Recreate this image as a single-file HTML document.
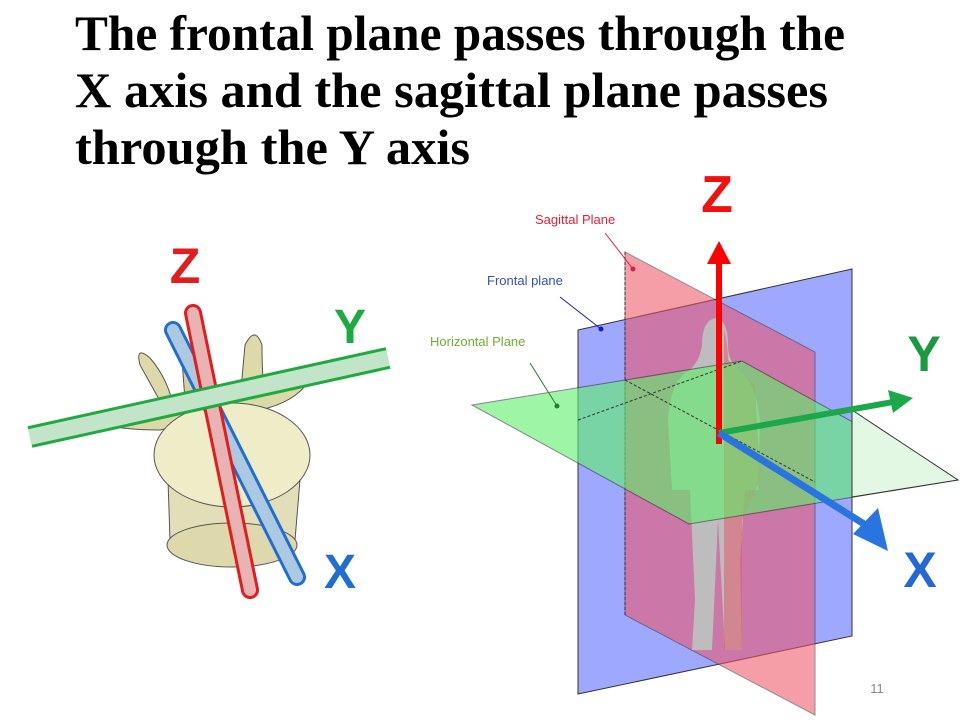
<!DOCTYPE html>
<html><head><meta charset="utf-8"><style>
html,body{margin:0;padding:0;background:#fff;}
svg{display:block}
</style></head><body>
<svg width="960" height="720" viewBox="0 0 960 720" xmlns="http://www.w3.org/2000/svg">
<rect width="960" height="720" fill="#fff"/>
<g font-family="Liberation Serif, serif" font-weight="bold" font-size="50" fill="#000">
<text x="75" y="50" textLength="770" lengthAdjust="spacingAndGlyphs">The frontal plane passes through the</text>
<text x="75" y="107" textLength="753" lengthAdjust="spacingAndGlyphs">X axis and the sagittal plane passes</text>
<text x="75" y="164" textLength="395" lengthAdjust="spacingAndGlyphs">through the Y axis</text>
</g>

<!-- Left vertebra -->
<g>
<path d="M140,365 Q135,345 150,358 Q165,375 172,400 L165,410 Z" fill="#ddd9a8" stroke="#555" stroke-width="1"/>
<path d="M245,345 Q255,325 262,345 Q262,380 265,395 L240,400 Z" fill="#ddd9a8" stroke="#555" stroke-width="1"/>
<path d="M182,360 Q190,350 200,360 L205,395 L185,400 Z" fill="#d8cfa0" stroke="#555" stroke-width="1"/>
<path d="M95,420 Q150,400 230,398 Q290,390 315,368 Q305,400 260,410 L160,430 Q110,430 95,420 Z" fill="#dcd9a8" stroke="#555" stroke-width="1"/>
<path d="M168,480 L170,540 Q200,555 235,555 Q270,552 295,540 L300,480 Z" fill="#e2dfb8" stroke="#555" stroke-width="1"/>
<ellipse cx="232" cy="545" rx="65" ry="22" fill="#ddd9ac" stroke="#555" stroke-width="1"/>
<ellipse cx="232" cy="455" rx="78" ry="52" fill="#efecc8" stroke="#555" stroke-width="1"/>
<line x1="173" y1="330" x2="297" y2="577" stroke="#1e6fd0" stroke-width="18" stroke-linecap="round"/>
<line x1="173" y1="330" x2="297" y2="577" stroke="#bcd3e3" stroke-width="12" stroke-linecap="round" opacity="0.9"/>
<line x1="193" y1="313" x2="250" y2="590" stroke="#e21d1d" stroke-width="18" stroke-linecap="round"/>
<line x1="193" y1="313" x2="250" y2="590" stroke="#e8b3b3" stroke-width="12" stroke-linecap="round"/>
<line x1="30" y1="437" x2="388" y2="358" stroke="#1faa40" stroke-width="22"/>
<line x1="30" y1="437" x2="388" y2="358" stroke="#d4ecd8" stroke-width="16" opacity="0.9"/>
<text x="185" y="283" font-family="Liberation Sans, sans-serif" font-weight="bold" font-size="50" fill="#e21d1d" text-anchor="middle">Z</text>
<text x="350" y="343" font-family="Liberation Sans, sans-serif" font-weight="bold" font-size="48" fill="#1faa40" text-anchor="middle">Y</text>
<text x="340" y="588" font-family="Liberation Sans, sans-serif" font-weight="bold" font-size="48" fill="#1e6fd0" text-anchor="middle">X</text>
</g>

<!-- Right planes -->
<polygon points="578,330 852,269 852,636 578,694" fill="#9ea8ff" stroke="#333" stroke-width="1"/>
<polygon points="625,252 815,352 815,715 625,615" fill="#f05060" opacity="0.55" stroke="#333" stroke-width="1"/>
<path d="M625,252 L625,615" stroke="#333" stroke-dasharray="3,2"/>
<path d="M716,318 Q702,320 702,345 Q700,360 690,370 Q670,380 668,420 L672,490 L690,490 L695,600 L692,650 L712,650 L718,520 L725,650 L742,650 L740,560 L745,490 L758,490 L760,420 Q755,380 738,370 Q728,360 728,345 Q728,320 716,318 Z" fill="#bdbdbd"/>
<path d="M724,330 Q728,345 728,360 Q740,372 755,385 L760,480 L742,520 L742,650 L724,650 Z" fill="#e06070" opacity="0.6"/>
<polygon points="472,405 742,361 958,480 689,524" fill="#5ff06a" opacity="0.6" stroke="#333" stroke-width="1"/>
<polygon points="852,410 958,480 852,497" fill="#e2f8e2" stroke="#333" stroke-width="1"/>
<path d="M578,420 L742,361 M625,380 L815,482" stroke="#333" stroke-dasharray="3,2" fill="none"/>
<line x1="719" y1="444" x2="719" y2="262" stroke="#f00" stroke-width="6"/>
<polygon points="707,264 731,264 719,241" fill="#f00"/>
<line x1="719" y1="433" x2="893" y2="402" stroke="#1aa84a" stroke-width="6"/>
<polygon points="888,390 913,398 893,413" fill="#1aa84a"/>
<line x1="719" y1="433" x2="864" y2="524" stroke="#2a74e0" stroke-width="7"/>
<polygon points="853,534 878,508 888,551" fill="#2a74e0"/>
<g font-family="Liberation Sans, sans-serif" font-weight="bold">
<text x="717" y="212" font-size="52" fill="#f01010" text-anchor="middle">Z</text>
<text x="924" y="371" font-size="50" fill="#1a9a40" text-anchor="middle">Y</text>
<text x="920" y="587" font-size="50" fill="#2268d8" text-anchor="middle">X</text>
</g>
<g font-family="Liberation Sans, sans-serif" font-size="13">
<text x="535" y="224" fill="#e0203a">Sagittal Plane</text>
<text x="487" y="285" fill="#3050c0">Frontal plane</text>
<text x="430" y="346" fill="#6cb030">Horizontal Plane</text>
</g>
<line x1="605" y1="233" x2="633" y2="269" stroke="#e0203a"/><circle cx="633" cy="269" r="2.5" fill="#e0203a"/>
<line x1="560" y1="297" x2="601" y2="329" stroke="#1020c0"/><circle cx="601" cy="329" r="2.5" fill="#1020c0"/>
<line x1="530" y1="363" x2="557" y2="406" stroke="#208030"/><circle cx="557" cy="406" r="2.5" fill="#208030"/>
<text x="877" y="693" font-family="Liberation Sans, sans-serif" font-size="13" fill="#888" text-anchor="middle">11</text>
</svg>
</body></html>
